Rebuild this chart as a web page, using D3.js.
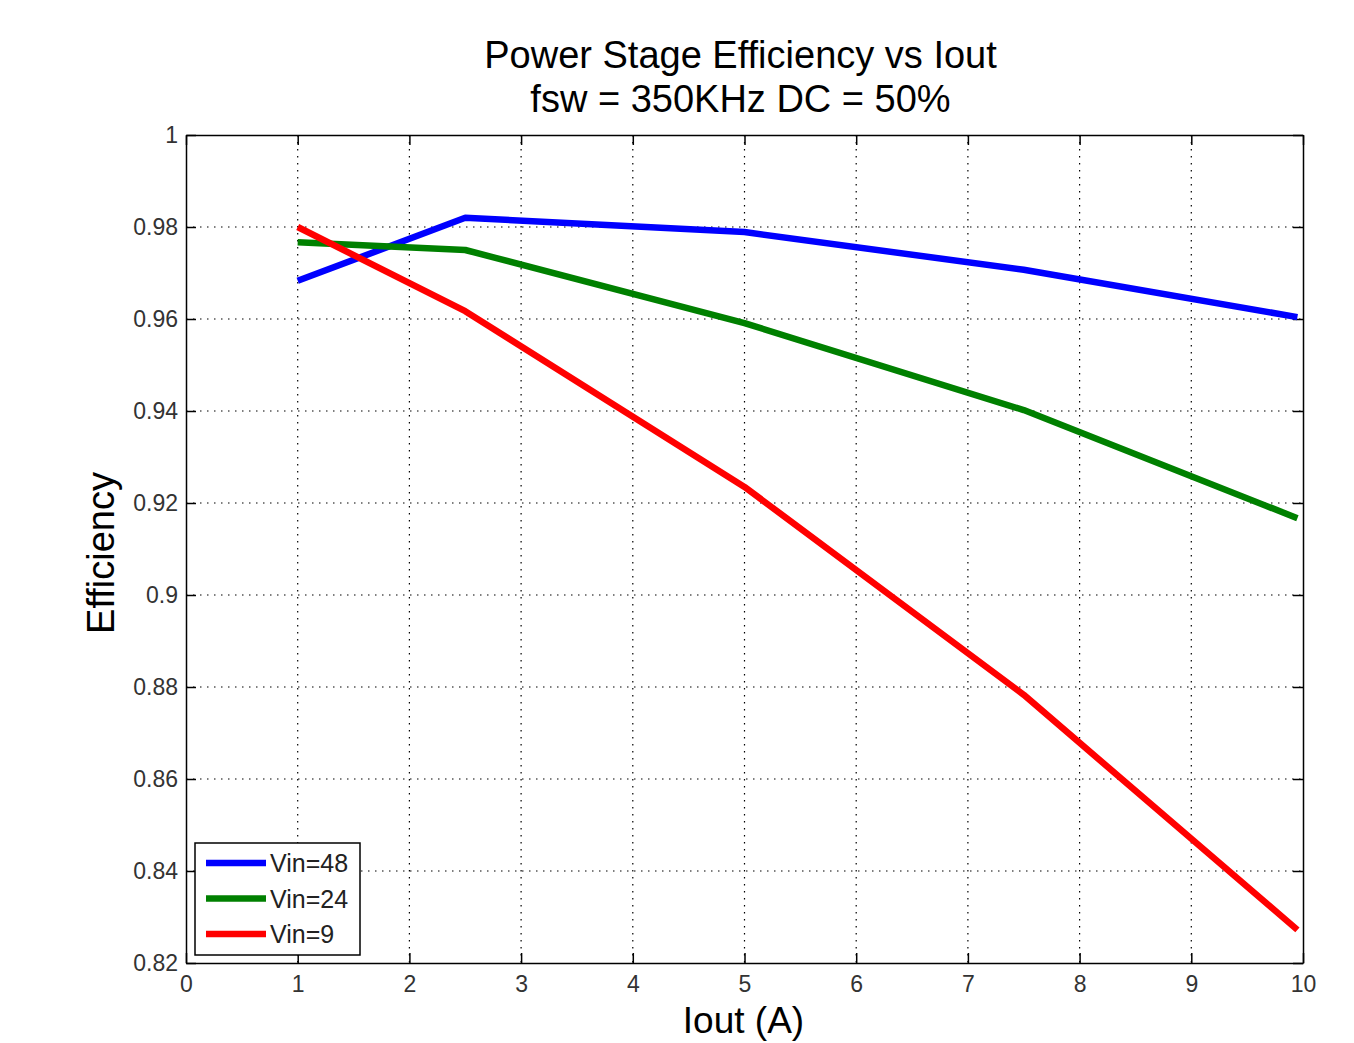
<!DOCTYPE html>
<html><head><meta charset="utf-8">
<script src="https://cdn.jsdelivr.net/npm/d3@7"></script>
<style>body{margin:0;background:#fff;} text{font-family:"Liberation Sans",Arial,sans-serif;}</style>
</head><body>
<svg id="c" width="1354" height="1043"></svg>
<script>
const iout = [1, 2.5, 5, 7.5, 9.95];
const vin48 = [0.9683, 0.9820, 0.9789, 0.9707, 0.9604];
const vin24 = [0.9767, 0.9750, 0.9591, 0.9402, 0.9167];
const vin9  = [0.9800, 0.9617, 0.9235, 0.8783, 0.8272];
const seriesNames = ["Vin=48", "Vin=24", "Vin=9"];
const seriesColors = ["#0000ff", "#008000", "#ff0000"];
const xTicks = [0,1,2,3,4,5,6,7,8,9,10];
const yTicks = [0.82,0.84,0.86,0.88,0.9,0.92,0.94,0.96,0.98,1];
const titleLines = ["Power Stage Efficiency vs Iout", "fsw = 350KHz DC = 50%"];

const svg = d3.select("#c");
const L=186, R=1303, T=135, B=963;
const x = d3.scaleLinear().domain([0,10]).range([L,R]);
const y = d3.scaleLinear().domain([0.82,1]).range([B,T]);

// grid
const grid = svg.append("g");
xTicks.slice(1,-1).forEach(t=>{
  grid.append("line").attr("x1",x(t)).attr("x2",x(t)).attr("y1",T).attr("y2",B)
    .attr("stroke","#000").attr("stroke-width",1.2).attr("stroke-dasharray","1.5,5.5");
});
yTicks.slice(1,-1).forEach(t=>{
  grid.append("line").attr("x1",L).attr("x2",R).attr("y1",y(t)).attr("y2",y(t))
    .attr("stroke","#000").attr("stroke-width",1.2).attr("stroke-dasharray","1.5,5.5");
});

// axes
const fmtY = d => d===1 ? "1" : d3.format("")(+d.toFixed(2));
const xAxis = svg.append("g").attr("transform",`translate(0,${B})`)
  .call(d3.axisBottom(x).tickValues(xTicks).tickSizeInner(-10).tickSizeOuter(0).tickPadding(12).tickFormat(d3.format("d")));
const xAxisTop = svg.append("g").attr("transform",`translate(0,${T})`)
  .call(d3.axisTop(x).tickValues(xTicks).tickSizeInner(-10).tickSizeOuter(0).tickFormat(""));
const yAxis = svg.append("g").attr("transform",`translate(${L},0)`)
  .call(d3.axisLeft(y).tickValues(yTicks).tickSizeInner(-10).tickSizeOuter(0).tickPadding(8).tickFormat(fmtY));
const yAxisR = svg.append("g").attr("transform",`translate(${R},0)`)
  .call(d3.axisRight(y).tickValues(yTicks).tickSizeInner(-10).tickSizeOuter(0).tickFormat(""));
[xAxis,xAxisTop,yAxis,yAxisR].forEach(a=>{
  a.selectAll("path.domain").attr("stroke","#000").attr("stroke-width",1.5);
  a.selectAll(".tick line").attr("stroke","#000").attr("stroke-width",1.5);
  a.selectAll("text").attr("font-size",23).attr("fill","#333")
    .attr("font-family",'"Liberation Sans",Arial,sans-serif');
});
xAxis.selectAll("text").attr("dy","0.75em");

// lines
const data = [vin48, vin24, vin9];
const line = d3.line().x((d,i)=>x(iout[i])).y(d=>y(d));
data.forEach((s,k)=>{
  svg.append("path").datum(s).attr("d",line).attr("fill","none")
    .attr("stroke",seriesColors[k]).attr("stroke-width",6.5).attr("stroke-linejoin","round");
});

// title
titleLines.forEach((t,i)=>{
  svg.append("text").attr("x",(L+R)/2-4).attr("y",68+i*44).attr("text-anchor","middle")
    .attr("font-size",38).attr("fill","#000").text(t);
});
// axis labels
svg.append("text").attr("x",(L+R)/2-1).attr("y",1033).attr("text-anchor","middle")
  .attr("font-size",37).attr("fill","#000").text("Iout (A)");
svg.append("text").attr("transform",`translate(114,${553}) rotate(-90)`).attr("text-anchor","middle")
  .attr("font-size",38).attr("fill","#000").text("Efficiency");

// legend
const lg = svg.append("g");
lg.append("rect").attr("x",195).attr("y",843).attr("width",165).attr("height",112)
  .attr("fill","#fff").attr("stroke","#000").attr("stroke-width",1.5);
seriesNames.forEach((n,k)=>{
  const yy = 863 + k*35.5;
  lg.append("line").attr("x1",206).attr("x2",266).attr("y1",yy).attr("y2",yy)
    .attr("stroke",seriesColors[k]).attr("stroke-width",6.5);
  lg.append("text").attr("x",270).attr("y",yy).attr("dy","0.36em").attr("font-size",25)
    .attr("fill","#222").text(n);
});
</script>
</body></html>
